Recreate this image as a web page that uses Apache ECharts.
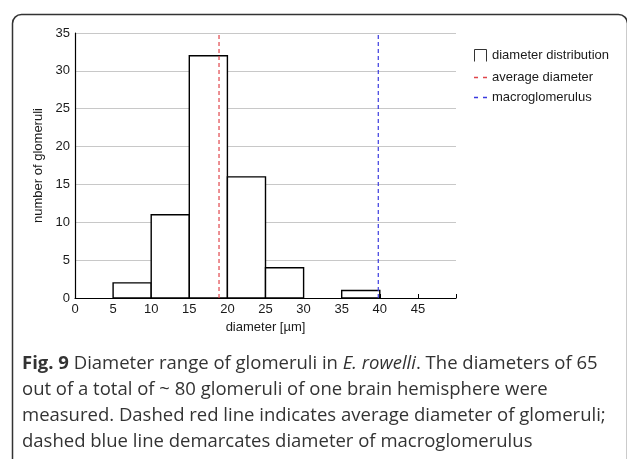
<!DOCTYPE html>
<html><head><meta charset="utf-8">
<script src="https://cdn.jsdelivr.net/npm/echarts@6/dist/echarts.min.js"></script>
<style>html,body{margin:0;padding:0;background:#fff}#c{width:627px;height:459px}</style>
</head><body><div id="c"></div>
<script>
const binStarts = [5, 10, 15, 20, 25, 35];
const binWidth = 5;
const counts = [2, 11, 32, 16, 4, 1];
const averageDiameter = 18.9;
const macroglomerulus = 39.8;
const xTicks = [0, 5, 10, 15, 20, 25, 30, 35, 40, 45];
const yTicks = [0, 5, 10, 15, 20, 25, 30, 35];
const seriesNames = ['diameter distribution', 'average diameter', 'macroglomerulus'];

const chart = echarts.init(document.getElementById('c'), null, {renderer: 'canvas'});
const font = 'Liberation Sans, Arial, sans-serif';
const capFont = '"Open Sans", sans-serif';
const histData = binStarts.map((s, i) => [s, s + binWidth, counts[i]]);
const red = '#e0454a', blue = '#3a3adf';

chart.setOption({
  animation: false,
  backgroundColor: '#fff',
  grid: {left: 75, top: 33, right: 171, bottom: 161},
  xAxis: {
    type: 'value', min: 0, max: 50, interval: 5,
    axisLine: {lineStyle: {color: '#000', width: 1.2}},
    axisTick: {show: true, inside: true, length: 4, lineStyle: {color: '#000'}},
    splitLine: {show: false},
    axisLabel: {color: '#1a1a1a', fontFamily: font, fontSize: 13, margin: 5,
      formatter: v => xTicks.indexOf(v) >= 0 ? String(v) : ''},
    name: 'diameter [µm]', nameLocation: 'middle', nameGap: 23,
    nameTextStyle: {color: '#1a1a1a', fontFamily: font, fontSize: 13}
  },
  yAxis: {
    type: 'value', min: 0, max: 35, interval: 5,
    axisLine: {show: true, lineStyle: {color: '#000', width: 1.2}},
    axisTick: {show: false},
    splitLine: {show: true, lineStyle: {color: '#c8c8c8', width: 1}},
    axisLabel: {color: '#1a1a1a', fontFamily: font, fontSize: 13, margin: 5,
      formatter: v => yTicks.indexOf(v) >= 0 ? String(v) : ''},
    name: 'number of glomeruli', nameLocation: 'middle', nameGap: 22,
    nameTextStyle: {color: '#1a1a1a', fontFamily: font, fontSize: 13}
  },
  legend: {
    orient: 'vertical', left: 467, top: 42, itemGap: 7, itemWidth: 13, itemHeight: 12,
    textStyle: {color: '#1a1a1a', fontFamily: font, fontSize: 13},
    data: [
      {name: seriesNames[0], icon: 'path://M0,12V0H12V12', itemStyle: {color: 'none', borderColor: '#333', borderWidth: 1}},
      {name: seriesNames[1], itemStyle: {color: 'rgba(0,0,0,0)', borderWidth: 0, opacity: 0}, lineStyle: {color: red, width: 1.3, type: [4, 5]}},
      {name: seriesNames[2], itemStyle: {color: 'rgba(0,0,0,0)', borderWidth: 0, opacity: 0}, lineStyle: {color: blue, width: 1.3, type: [4, 5]}}
    ]
  },
  series: [
    {
      name: seriesNames[0], type: 'custom', z: 2,
      itemStyle: {color: '#fff', borderColor: '#000'},
      renderItem: function (params, api) {
        const p0 = api.coord([api.value(0), api.value(2)]);
        const p1 = api.coord([api.value(1), 0]);
        return {type: 'rect', shape: {x: p0[0], y: p0[1], width: p1[0] - p0[0], height: p1[1] - p0[1]},
          style: {fill: '#fff', stroke: '#000', lineWidth: 1.4}};
      },
      encode: {x: [0, 1], y: 2},
      data: histData
    },
    {
      name: seriesNames[1], type: 'line', z: 5, showSymbol: false, symbol: 'none',
      color: red,
      lineStyle: {color: red, width: 1.2, type: [4, 3]},
      data: [[averageDiameter, 0], [averageDiameter, 35]]
    },
    {
      name: seriesNames[2], type: 'line', z: 5, showSymbol: false, symbol: 'none',
      color: blue,
      lineStyle: {color: blue, width: 1.2, type: [4, 3]},
      data: [[macroglomerulus, 0], [macroglomerulus, 35]]
    }
  ],
  graphic: [
    {type: 'rect', left: 10, top: 12, silent: true,
      shape: {width: 615, height: 460, r: 9},
      style: {fill: 'none', stroke: '#333', lineWidth: 1.5}},
    {type: 'text', left: 22, top: 351, silent: true,
      style: {
        text: '{b|Fig. 9} Diameter range of glomeruli in {i|E. rowelli}. The diameters of 65\nout of a total of ~ 80 glomeruli of one brain hemisphere were\nmeasured. Dashed red line indicates average diameter of glomeruli;\ndashed blue line demarcates diameter of macroglomerulus',
        font: '18.5px ' + capFont, fill: '#333', lineHeight: 26,
        rich: {
          b: {fontFamily: capFont, fontSize: 18.5, fontWeight: 'bold', fill: '#333', lineHeight: 26},
          i: {fontFamily: capFont, fontSize: 18.5, fontStyle: 'italic', fill: '#333', lineHeight: 26}
        }
      }}
  ]
});
</script></body></html>
